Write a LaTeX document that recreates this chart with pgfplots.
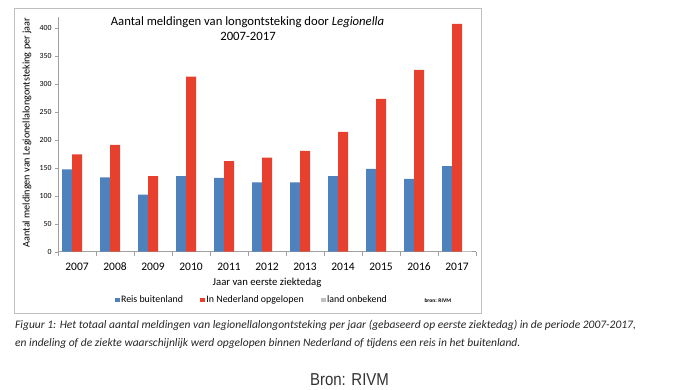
\documentclass[border=0pt]{standalone}
\usepackage{pgfplots}
\pgfplotsset{compat=1.18}
\usepackage{fontspec}
\setmainfont{Carlito}
\newfontfamily\arialf{Liberation Sans}
\definecolor{cblue}{HTML}{4F81BD}
\definecolor{cred}{HTML}{E8402F}
\definecolor{cgrey}{HTML}{BFBFBF}
\definecolor{axgrey}{HTML}{A0A0A0}
\begin{document}
\begin{tikzpicture}[x=1pt,y=1pt]
\path[use as bounding box, fill=white] (0,0) rectangle (700,-390);
\draw[cgrey, line width=0.8pt] (14,-8) rectangle (481,-313);
\begin{axis}[
  at={(58pt,-251.7pt)}, anchor=south west,
  scale only axis, width=418pt, height=235pt,
  xmin=-0.5, xmax=10.5, ymin=0, ymax=420,
  ybar=0pt, bar width=10pt,
  axis x line*=bottom, axis y line*=left,
  axis line style={axgrey, line width=0.6pt},
  tick align=outside,
  xtick={0,...,10},
  xticklabels={2007,2008,2009,2010,2011,2012,2013,2014,2015,2016,2017},
  major x tick style={draw=none},
  minor xtick={-0.5,0.5,...,10.5},
  minor tick length=4pt,
  major tick length=3pt,
  tick style={axgrey},
  ytick={0,50,...,400},
  /pgf/number format/assume math mode=true,
  yticklabel style={font=\fontsize{7.8}{8}\selectfont},
  xticklabel style={font=\fontsize{11.5}{12}\selectfont, text height=8.2pt, text depth=0pt, yshift=-4pt},
  xlabel={Jaar van eerste ziektedag},
  xlabel style={font=\fontsize{10.7}{12}\selectfont, at={(axis description cs:0.5,-0.133)}, anchor=center},
  ylabel={Aantal meldingen van Legionellalongontsteking per jaar},
  ylabel style={font=\fontsize{10.2}{11}\selectfont, at={(axis description cs:-0.074,0.507)}, anchor=center},
  legend columns=3,
  legend style={draw=none, fill=none, at={(axis description cs:0.136,-0.2055)}, anchor=west,
    font=\fontsize{9.9}{10}\selectfont, inner xsep=0pt, inner ysep=0pt,
    nodes={inner xsep=1.5pt},
    /tikz/every even column/.append style={column sep=16pt}},
  legend image code/.code={\fill[#1, draw=none] (0pt,-2.2pt) rectangle (4.5pt,2.2pt);},
]
\addplot[fill=cblue, draw=none] coordinates {(0,147) (1,133) (2,102) (3,135) (4,132) (5,124) (6,124) (7,135) (8,148) (9,130) (10,153)};
\addplot[fill=cred, draw=none] coordinates {(0,174) (1,191) (2,135) (3,313) (4,162) (5,168) (6,180) (7,214) (8,273) (9,325) (10,407)};
\addplot[fill=cgrey, draw=none] coordinates {(10,2)};
\legend{Reis buitenland, In Nederland opgelopen, land onbekend}
\end{axis}
\node[font=\fontsize{12.7}{14}\selectfont] at (247.5,-21.7) {Aantal meldingen van longontsteking door \textit{Legionella}};
\node[font=\fontsize{12.7}{14}\selectfont] at (248,-36.5) {2007-2017};
\node[font=\fontsize{5.5}{6}\selectfont\bfseries, anchor=west] at (421,-300.5) {bron: RIVM};
\node[font=\fontsize{11.5}{12}\selectfont\itshape, anchor=west, inner sep=0pt, text=black!85] at (15,-325) {Figuur 1: Het totaal aantal meldingen van legionellalongontsteking per jaar (gebaseerd op eerste ziektedag) in de periode 2007-2017,};
\node[font=\fontsize{11.5}{12}\selectfont\itshape, anchor=west, inner sep=0pt, text=black!85] at (15,-343) {en indeling of de ziekte waarschijnlijk werd opgelopen binnen Nederland of tijdens een reis in het buitenland.};
\node[font=\arialf\fontsize{15}{16}\selectfont, text=black!80] at (349.5,-380) {\scalebox{1}[1.15]{Bron: RIVM}};
\end{tikzpicture}
\end{document}
